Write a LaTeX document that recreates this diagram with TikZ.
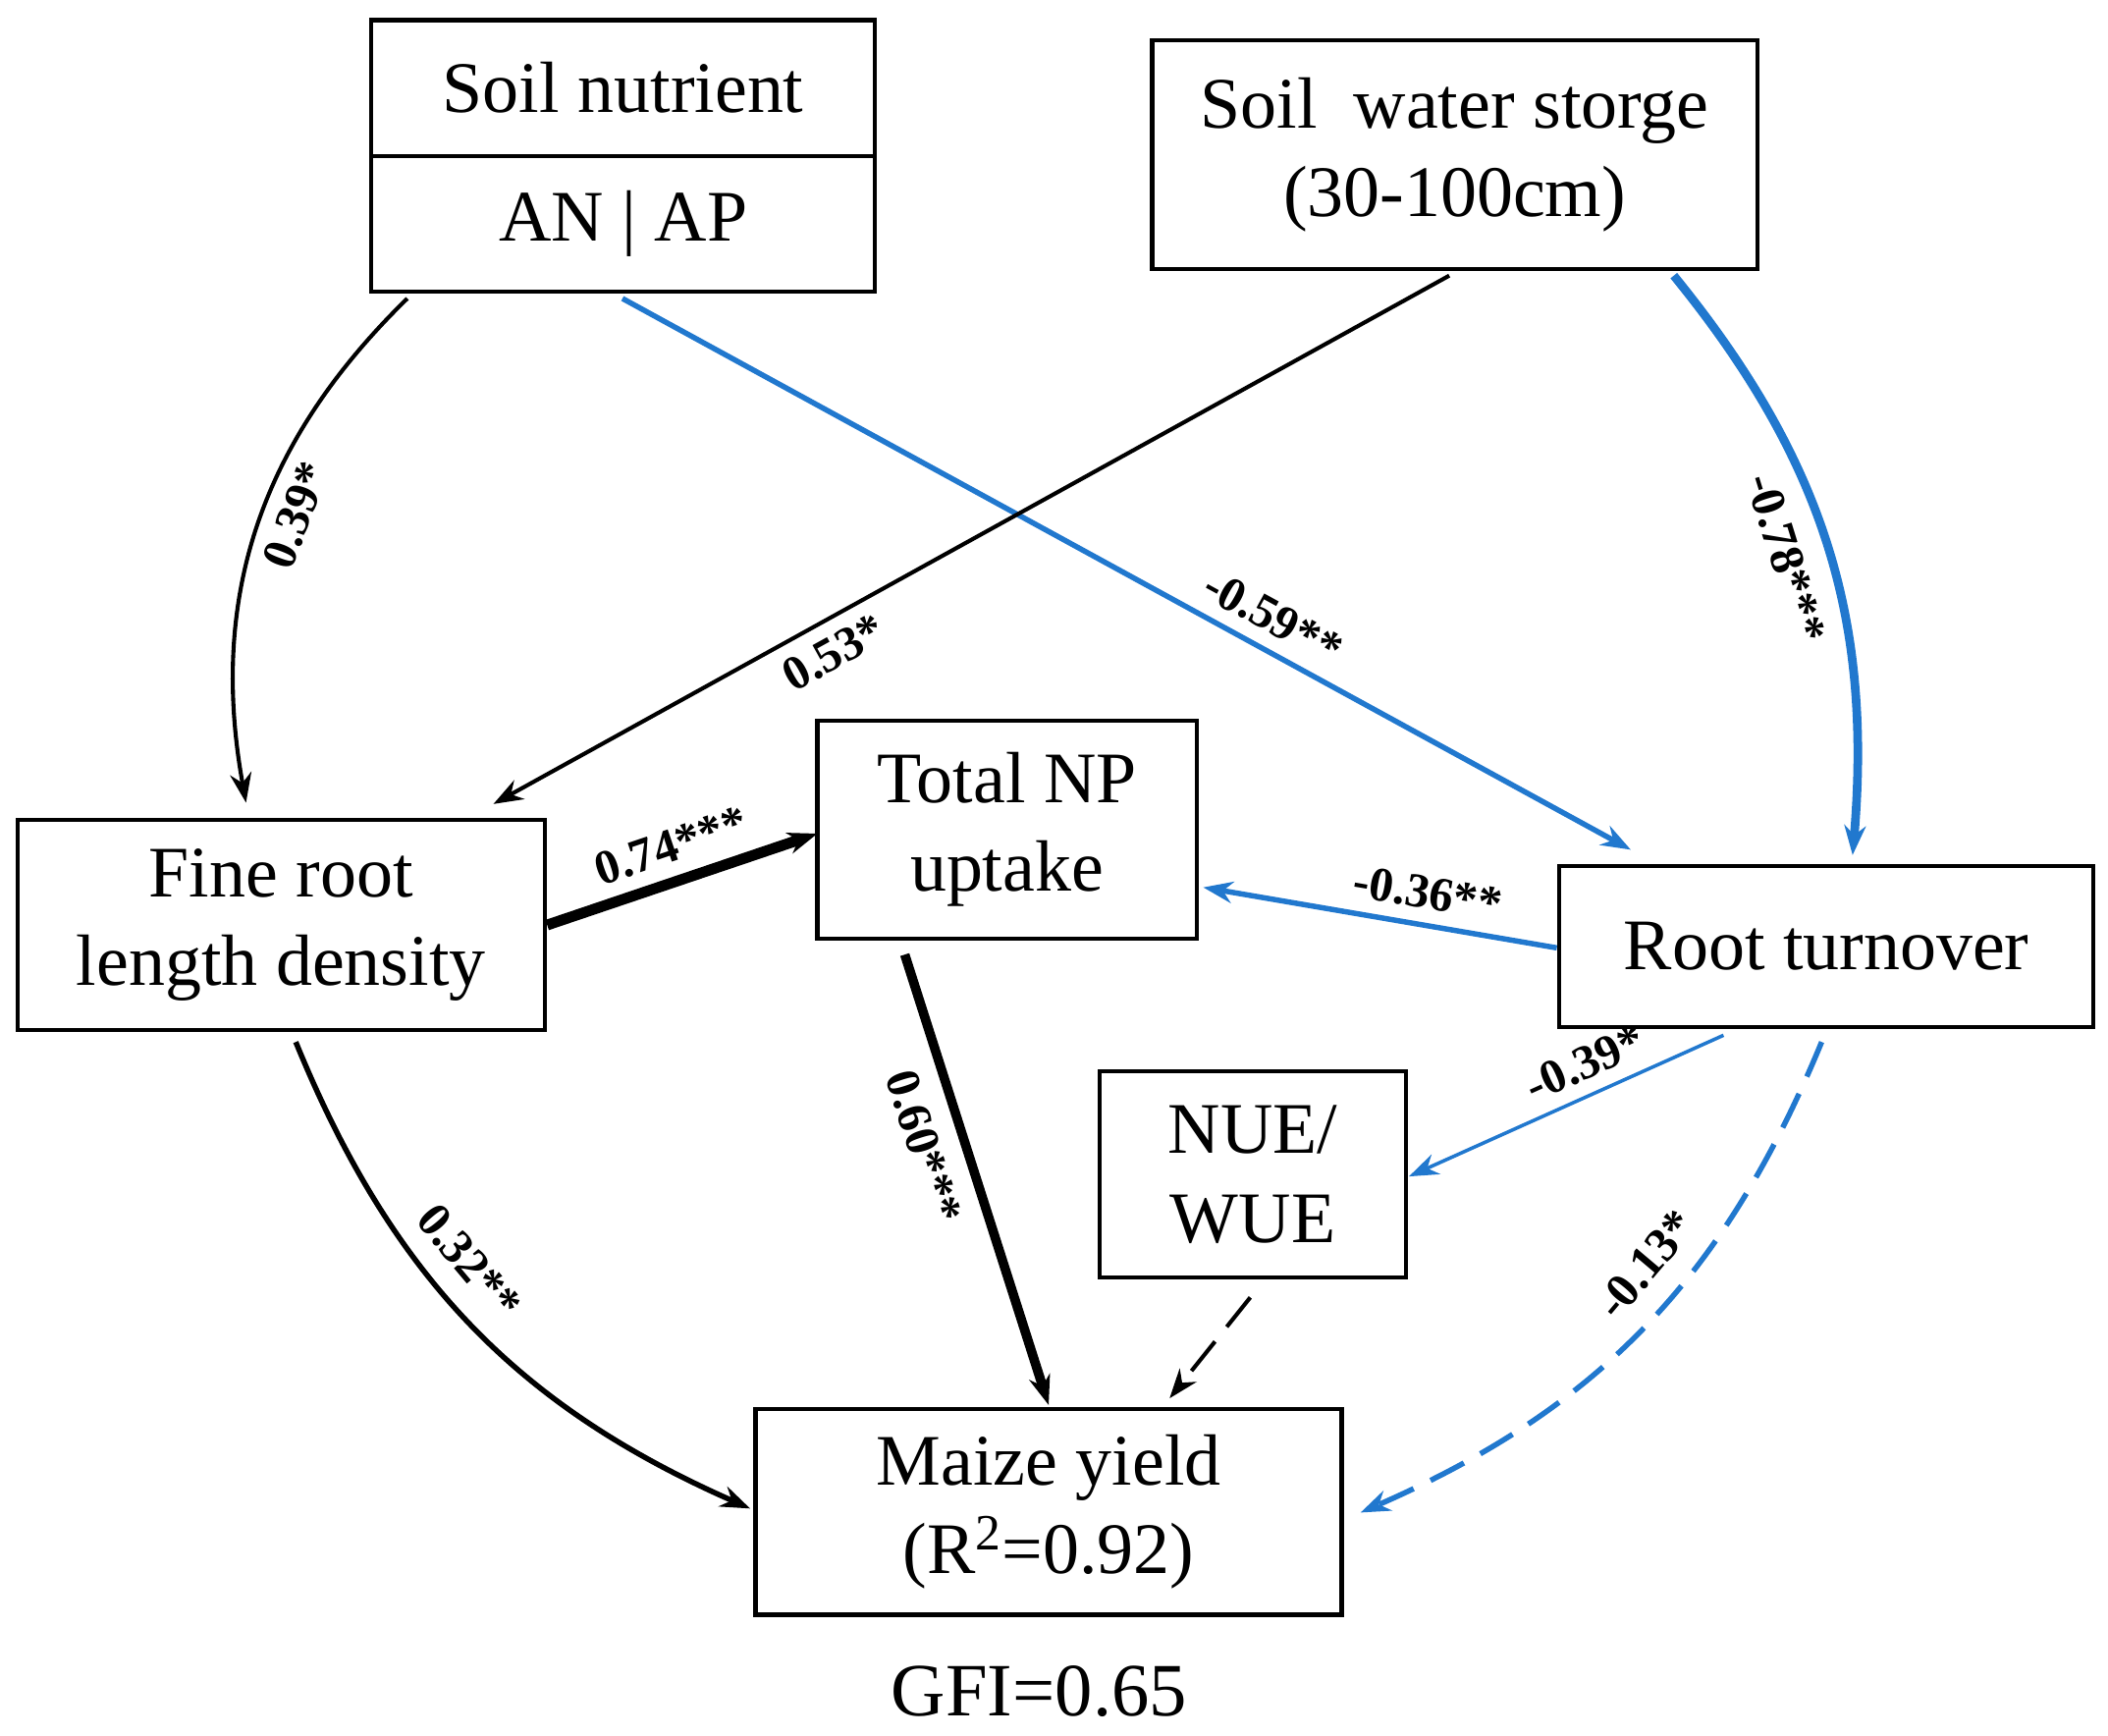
\documentclass[tikz,border=0pt]{standalone}
\usepackage{fontspec}
\setmainfont{Liberation Serif}
\usetikzlibrary{arrows.meta}
\definecolor{bl}{RGB}{33,120,206}
\begin{document}
\begin{tikzpicture}[x=0.5pt,y=-0.5pt,
 box/.style={draw,line width=1.5pt,inner sep=0pt,align=center,font=\fontsize{27}{33}\selectfont},
 lab/.style={font=\bfseries\fontsize{18}{20}\selectfont,inner sep=5pt,text=black},
 arr/.style={-{Stealth[length=11pt,width=8pt]},line width=1.5pt},
 barr/.style={arr,bl,line width=2pt}]
\useasboundingbox (0,0) rectangle (1568,1291);
\node[box,minimum width=187.5pt,minimum height=50.5pt] (sn) at (463.5,65.5) {Soil nutrient};
\node[box,minimum width=187.5pt,minimum height=50.5pt] (ap) at (463.5,166.5) {AN | AP};
\node[box,minimum width=225pt,minimum height=85pt] (sw) at (1082,115) {Soil\ \ water storge\\(30-100cm)};
\node[box,minimum width=196pt,minimum height=78pt] (fr) at (209,688) {Fine root\\length density};
\node[box,minimum width=141pt,minimum height=81pt] (np) at (749,617) {Total NP\\uptake};
\node[box,minimum width=198.5pt,minimum height=60pt] (rt) at (1358.5,704) {Root turnover};
\node[box,minimum width=114pt,minimum height=76.5pt] (nu) at (932,873.5) {NUE/\\WUE};
\node[box,minimum width=218pt,minimum height=76.5pt] (my) at (780,1124.5) {Maize yield\\(R\textsuperscript{2}=0.92)};
\node[font=\fontsize{28}{32}\selectfont] (gfi) at (773,1258) {GFI=0.65};
\coordinate (a1) at (303,222); \coordinate (b1) at (183,597);
\coordinate (a2) at (463,222); \coordinate (b2) at (1213,632);
\coordinate (a3) at (1078,205); \coordinate (b3) at (367,598);
\coordinate (a4) at (1245,205); \coordinate (b4) at (1378,636);
\coordinate (a5) at (407,688); \coordinate (b5) at (608,620);
\coordinate (a6) at (1158,705); \coordinate (b6) at (895,660);
\coordinate (a7) at (1282,770); \coordinate (b7) at (1048,875);
\coordinate (a8) at (673,710); \coordinate (b8) at (780,1045);
\coordinate (a9) at (930,965); \coordinate (b9) at (870,1040);
\coordinate (a10) at (1355,775); \coordinate (b10) at (1012,1125);
\coordinate (a11) at (220,775); \coordinate (b11) at (558,1122);
\draw[arr] (a1) to[bend right=28] node[lab,sloped,below,pos=0.45] {0.39*} (b1);
\draw[barr] (a2) -- node[lab,sloped,above,pos=0.63] {-0.59**} (b2);
\draw[arr] (a3) -- node[lab,sloped,below,pos=0.66] {0.53*} (b3);
\draw[barr,line width=3.2pt] (a4) to[bend left=22] node[lab,sloped,below,inner sep=8pt] {-0.78***} (b4);
\draw[arr,line width=4pt] (a5) -- node[lab,sloped,above] {0.74***} (b5);
\draw[barr] (a6) -- node[lab,sloped,above,pos=0.38] {-0.36**} (b6);
\draw[barr,line width=1.3pt] (a7) -- node[lab,sloped,above,pos=0.4] {-0.39*} (b7);
\draw[arr,line width=3.5pt] (a8) -- node[lab,sloped,below,pos=0.4,inner sep=7pt] {0.60***} (b8);
\draw[arr,dash pattern=on 14pt off 7pt] (a9) -- (b9);
\draw[barr,dash pattern=on 14pt off 7pt] (a10) to[bend left=22] node[lab,sloped,above,pos=0.42,inner sep=8pt] {-0.13*} (b10);
\draw[arr,line width=2pt] (a11) to[bend right=22] node[lab,sloped,above,pos=0.42,inner sep=8pt] {0.32**} (b11);
\end{tikzpicture}
\end{document}
